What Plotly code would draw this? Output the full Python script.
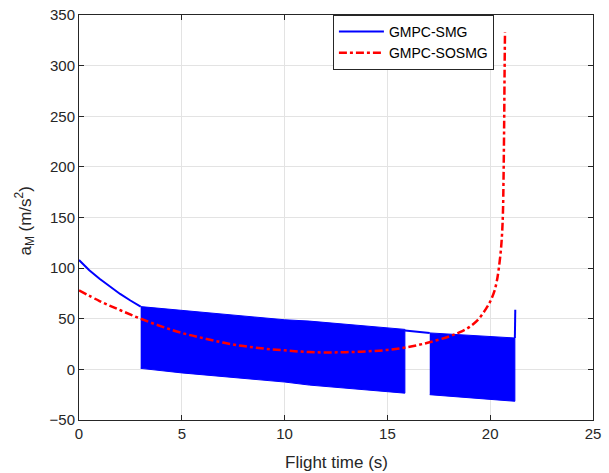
import plotly.graph_objects as go

# blue (GMPC-SMG): smooth start, then two chattering bands read as envelopes
smg_x = [0, 0.5, 1, 1.5, 2, 2.5, 3]
smg_y = [108, 98, 89.5, 82, 74.5, 68, 62]

band1_x = [3, 5, 10, 11.2, 15.85]
band1_hi = [62, 58.3, 49, 47.7, 39.5]
band1_lo = [1, -3.5, -12.5, -15.5, -23.5]

gap_x = [15.85, 17.06]
gap_y = [38.5, 36]

band2_x = [17.06, 19, 21.2]
band2_hi = [36, 34, 31]
band2_lo = [-25, -28, -31.5]

spike_x = [21.2, 21.22]
spike_y = [31, 59]

# red (GMPC-SOSMG)
sos_x = [0, 1, 2, 3, 4, 5, 6, 7, 8, 9, 10, 11, 12, 13, 14, 15, 16, 17, 18, 18.5,
         19, 19.45, 19.8, 20.0, 20.2, 20.32, 20.42, 20.52, 20.58, 20.62, 20.65, 20.68, 20.7, 20.72]
sos_y = [78, 67.5, 58.5, 50, 42.5, 36, 31, 26.5, 23, 20.5, 18.8, 17.3, 16.7, 17, 17.8, 19.2,
         22, 26.5, 32.5, 36.5, 42, 50, 60, 67, 77, 87, 100, 118, 135, 155, 190, 245, 295, 333]

blue = "#0000ff"
red = "#ff0000"

fig = go.Figure()

fig.add_trace(go.Scatter(x=smg_x, y=smg_y, mode="lines", name="GMPC-SMG",
                         line=dict(color=blue, width=2)))
for bx, hi, lo in [(band1_x, band1_hi, band1_lo), (band2_x, band2_hi, band2_lo)]:
    fig.add_trace(go.Scatter(x=bx + bx[::-1], y=hi + lo[::-1], mode="lines", fill="toself",
                             fillcolor=blue, line=dict(color=blue, width=1),
                             showlegend=False, hoverinfo="skip"))
fig.add_trace(go.Scatter(x=gap_x, y=gap_y, mode="lines", showlegend=False,
                         line=dict(color=blue, width=2)))
fig.add_trace(go.Scatter(x=spike_x, y=spike_y, mode="lines", showlegend=False,
                         line=dict(color=blue, width=2)))

fig.add_trace(go.Scatter(x=sos_x, y=sos_y, mode="lines", name="GMPC-SOSMG",
                         line=dict(color=red, width=2.5, dash="8px,3px,3px,3px", shape="spline")))

axis_style = dict(
    showline=True, linecolor="#262626", linewidth=1, mirror="ticks",
    ticks="inside", ticklen=5, tickcolor="#262626",
    showgrid=True, gridcolor="#e3e3e3", gridwidth=1, zeroline=False,
    tickfont=dict(size=15, color="#262626"), automargin=False,
)

fig.update_xaxes(range=[0, 25], tickvals=[0, 5, 10, 15, 20, 25], **axis_style)
fig.update_yaxes(range=[-50, 350], tickvals=[-50, 0, 50, 100, 150, 200, 250, 300, 350],
                 **axis_style)

# axis labels placed by hand to sit where MATLAB puts them
fig.add_annotation(text="Flight time (s)", xref="paper", yref="paper", x=0.5, y=-0.106,
                   xanchor="center", yanchor="middle", showarrow=False,
                   font=dict(size=17, color="#262626"))
fig.add_annotation(text="a<sub>M</sub> (m/s<sup>2</sup>)", textangle=-90,
                   xref="paper", yref="paper", x=-0.105, y=0.49,
                   xanchor="center", yanchor="middle", showarrow=False,
                   font=dict(size=17, color="#262626"))

fig.update_layout(
    width=609, height=473,
    margin=dict(l=79, r=16, t=15, b=53),
    plot_bgcolor="white", paper_bgcolor="white",
    font=dict(family="Liberation Sans, Arial, sans-serif", color="#262626"),
    legend=dict(x=0.494, y=1, xanchor="left", yanchor="top",
                bgcolor="white", bordercolor="#262626", borderwidth=1,
                font=dict(size=14, color="#000000"), tracegroupgap=0,
                itemwidth=45),
)

fig.write_html("out.html", config={"displayModeBar": False},
               post_script="document.body.style.margin='0';")
